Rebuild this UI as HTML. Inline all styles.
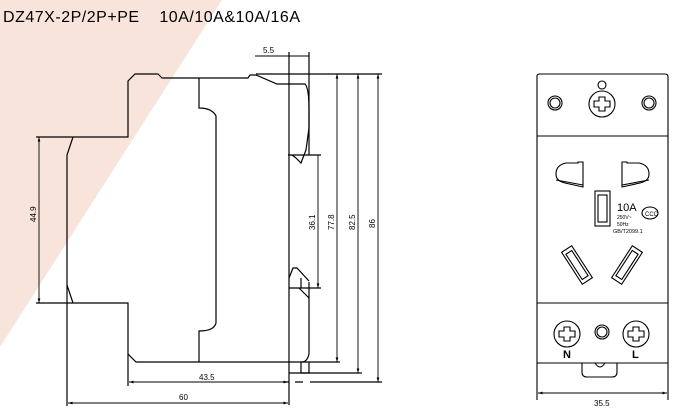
<!DOCTYPE html>
<html><head><meta charset="utf-8"><style>
html,body{margin:0;padding:0;background:#fff;}
svg{display:block;}
text{font-family:"Liberation Sans",sans-serif;fill:#000;}
</style></head><body>
<svg width="675" height="416" viewBox="0 0 675 416" xmlns="http://www.w3.org/2000/svg">
<defs>
<marker id="a" markerWidth="6" markerHeight="6" refX="5" refY="3" orient="auto-start-reverse"><path d="M0,1.5 L5,3 L0,4.5z" fill="#000"/></marker>
</defs>
<polygon points="0,0 222,0 0,347" fill="#f9e4dc"/>
<text x="3" y="22" font-size="16" fill="#333" textLength="297" lengthAdjust="spacing">DZ47X-2P/2P+PE&#160;&#160;&#160;&#160;10A/10A&amp;10A/16A</text>
<g fill="none" stroke="#000" stroke-width="1.2">
<path d="M36,137 H128 V81 L135,74 H158 L162,78 H248 L250,75 H256 L277,84 H305 Q309,88 309,110 L309,128 L306,150 L301,163 L296,158 L292,155"/>
<path d="M199,78 V108 Q212,108 216,116 V323 Q214,331 199,331 V362"/>
<path d="M36,303 H128 V354 L136,362 H340"/>
<path d="M67,155 L73,137 M67,285 L73,303 M67,155 V406"/>
<path d="M289,52 V405 M309,52 V155 M309,282 V354 Q307,362 302,362"/>
<path d="M289,278 L293,268 L297,268 L309,281 M289,288 H321 M301,288 V278 M299,288 L309,298 M301,362 V373 H309 V362"/>
<path d="M288,155 H321"/>
<path d="M256,74 H382 M289,373 H362 M310,382 H382 M128,354 V386 M289,382 h-5 M295,382 h8"/>
</g>
<g fill="none" stroke="#000" stroke-width="0.9">
<line x1="255" y1="56" x2="309" y2="56"/>
<line x1="318" y1="155" x2="318" y2="288" marker-end="url(#a)"/>
<line x1="337" y1="74" x2="337" y2="362" marker-start="url(#a)" marker-end="url(#a)"/>
<line x1="358" y1="74" x2="358" y2="373" marker-start="url(#a)" marker-end="url(#a)"/>
<line x1="378" y1="74" x2="378" y2="382" marker-start="url(#a)" marker-end="url(#a)"/>
<line x1="39" y1="137" x2="39" y2="303" marker-start="url(#a)" marker-end="url(#a)"/>
<line x1="129" y1="382" x2="288" y2="382" marker-start="url(#a)" marker-end="url(#a)"/>
<line x1="68" y1="403" x2="288" y2="403" marker-start="url(#a)" marker-end="url(#a)"/>
</g>
<g font-size="8">
<text x="263" y="53">5.5</text>
<text x="199" y="380">43.5</text>
<text x="179" y="400">60</text>
<text transform="translate(36,222) rotate(-90)">44.9</text>
<text transform="translate(315,230) rotate(-90)">36.1</text>
<text transform="translate(334,230) rotate(-90)">77.8</text>
<text transform="translate(355,230) rotate(-90)">82.5</text>
<text transform="translate(375,228) rotate(-90)">86</text>
</g>
<g fill="none" stroke="#000" stroke-width="1.1">
<path d="M537,400 V76 Q537,74 540,74 H665 Q668,74 668,77 V400"/>
<line x1="537" y1="136" x2="668" y2="136"/>
<line x1="537" y1="303" x2="668" y2="303"/>
<line x1="537" y1="363" x2="668" y2="363"/>
<path d="M582,363 V372 Q582,377 587,377 H612 Q617,377 617,372 V363"/>
<path d="M595,363 Q600,371 605,363"/>
<circle cx="555" cy="103" r="7"/><circle cx="555" cy="103" r="5"/>
<circle cx="649" cy="103" r="7"/><circle cx="649" cy="103" r="5"/>
<circle cx="602" cy="104" r="13"/>
<circle cx="602" cy="85" r="4"/>
<path d="M599,97 h6 v4 h5 v6 h-5 v4 h-6 v-4 h-5 v-6 h5z"/>
<path d="M583,162 V187 L565,183 Q556,181 556,174 Q556,165 566,163 H578 V162z"/>
<path d="M556,180 L583,185"/>
<path d="M622,162 V187 L640,183 Q649,181 649,174 Q649,165 639,163 H627 V162z"/>
<path d="M649,180 L622,185"/>
<rect x="595" y="191" width="15" height="35"/>
<rect x="598" y="195" width="9" height="27"/>
<g transform="translate(577,265) rotate(-33)"><rect x="-6" y="-19" width="12" height="38"/><rect x="-3.5" y="-15" width="7" height="30"/></g>
<g transform="translate(627,265) rotate(33)"><rect x="-6" y="-19" width="12" height="38"/><rect x="-3.5" y="-15" width="7" height="30"/></g>
<ellipse cx="650" cy="213" rx="8" ry="6"/>
<circle cx="567" cy="334" r="13"/>
<path d="M564,327 h6 v4 h5 v6 h-5 v4 h-6 v-4 h-5 v-6 h5z"/>
<circle cx="636" cy="334" r="13"/>
<path d="M633,327 h6 v4 h5 v6 h-5 v4 h-6 v-4 h-5 v-6 h5z"/>
<circle cx="602" cy="332" r="7"/><circle cx="602" cy="332" r="5"/>
<line x1="538" y1="393" x2="667" y2="393" stroke-width="0.9" marker-start="url(#a)" marker-end="url(#a)"/>
</g>
<text x="617" y="211" font-size="11">10A</text>
<text x="617" y="219" font-size="5">250V~</text>
<text x="617" y="226" font-size="5">50Hz</text>
<text x="613" y="233" font-size="5.5">GB/T2099.1</text>
<text x="645" y="216" font-size="6">CCC</text>
<text x="563" y="358" font-size="11" font-weight="bold">N</text>
<text x="632" y="358" font-size="11" font-weight="bold">L</text>
<text x="594" y="406" font-size="8">35.5</text>
</svg>
</body></html>
